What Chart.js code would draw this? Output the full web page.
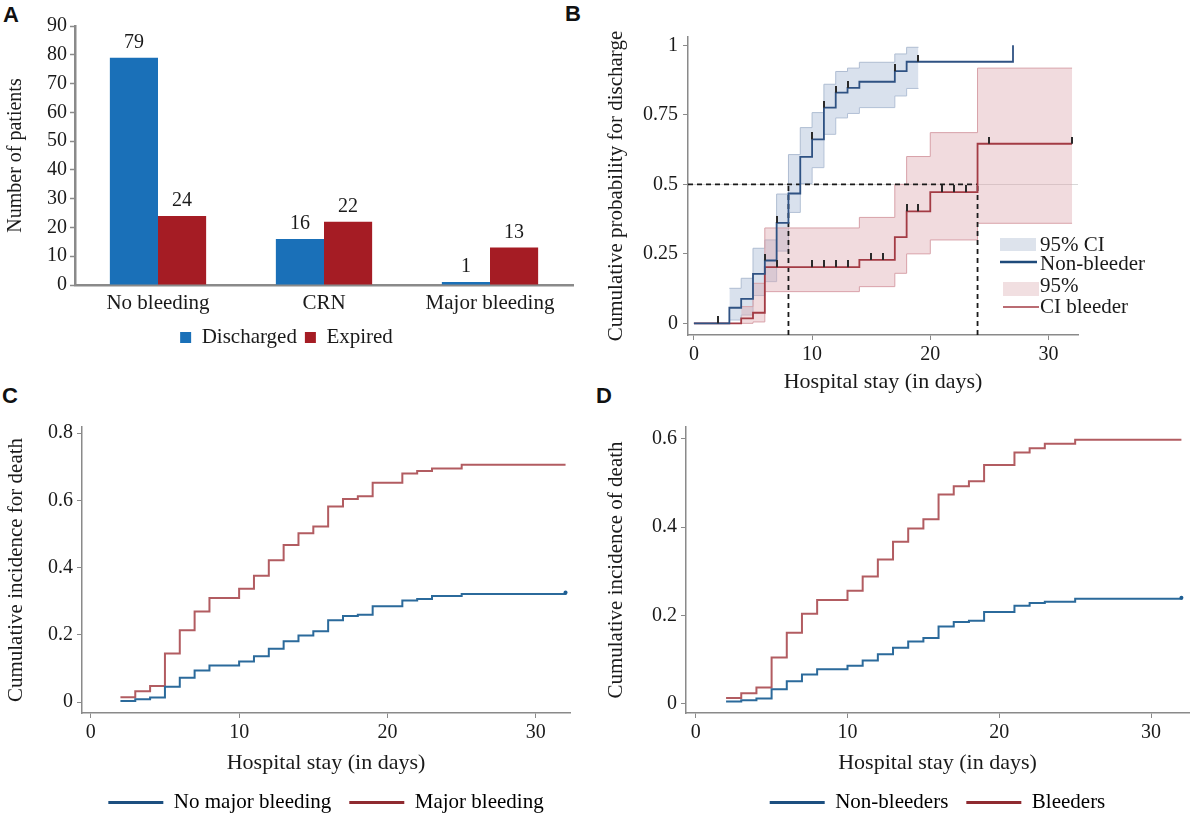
<!DOCTYPE html>
<html>
<head>
<meta charset="utf-8">
<script src="https://cdn.jsdelivr.net/npm/chart.js@4.4.1/dist/chart.umd.min.js"></script>
<style>
body{margin:0;background:#fff;width:1193px;height:815px;overflow:hidden;position:relative}
.box{position:absolute}
.tag{position:absolute;font-family:'Liberation Sans',Arial,sans-serif;font-weight:bold;font-size:22px;color:#111;line-height:24px}
</style>
</head>
<body>

<div class="tag" style="left:3px;top:3px">A</div>
<div class="tag" style="left:565px;top:2px">B</div>
<div class="tag" style="left:2px;top:384px">C</div>
<div class="tag" style="left:596px;top:384px">D</div>

<div class="box" style="left:0;top:0;width:600px;height:360px"><canvas id="grafikA"></canvas></div>
<div class="box" style="left:600px;top:0;width:593px;height:400px"><canvas id="grafikB"></canvas></div>
<div class="box" style="left:0;top:380px;width:600px;height:445px"><canvas id="grafikC"></canvas></div>
<div class="box" style="left:600px;top:380px;width:593px;height:445px"><canvas id="grafikD"></canvas></div>

<script>
// =========================
// DATA PANEL A
// =========================

let kategoriA = ["No bleeding","CRN","Major bleeding"];
let discharged = [79,16,1];
let expired = [24,22,13];
let tickA = [0,10,20,30,40,50,60,70,80,90];

// =========================
// DATA PANEL B (Kaplan-Meier)
// =========================

let hariNonBleeder = [0,3,4,5,6,7,8,9,10,11,12,13,14,17,18,27];
let nonBleeder = [0,0.056,0.088,0.178,0.226,0.361,0.467,0.599,0.662,0.776,0.830,0.847,0.869,0.907,0.941,1.0];

let hariBleeder = [0,4,5,6,14,17,18,20,24,32];
let bleeder = [0,0.018,0.038,0.202,0.228,0.31,0.403,0.472,0.646,0.646];

let hariCiNon = [3,4,5,6,7,8,9,10,11,12,13,14,17,18,19];
let ciNonAtas = [0.126,0.162,0.27,0.30,0.465,0.607,0.704,0.758,0.86,0.906,0.918,0.939,0.969,0.993,0.993];
let ciNonBawah = [0.012,0.03,0.10,0.15,0.26,0.399,0.503,0.56,0.68,0.739,0.755,0.776,0.818,0.845,0.845];

let hariCiBleeder = [4,5,6,14,17,18,20,24,32];
let ciBleederAtas = [0.06,0.144,0.343,0.381,0.50,0.60,0.686,0.918,0.918];
let ciBleederBawah = [0,0.005,0.114,0.132,0.18,0.25,0.30,0.36,0.36];

let sensorNonHari = [2,6,7,10,11,12,13,17,19];
let sensorNonNilai = [0,0.226,0.361,0.662,0.776,0.830,0.847,0.907,0.941];
let sensorBleederHari = [7,10,11,12,13,15,16,18,19,21,22,23,25,32];
let sensorBleederNilai = [0.202,0.202,0.202,0.202,0.202,0.228,0.228,0.403,0.403,0.472,0.472,0.472,0.646,0.646];

let medianHari = [8,24];
let medianLevel = 0.5;

let tickBx = [0,10,20,30];
let tickBy = [0,0.25,0.5,0.75,1];
let legendB = ["95% CI","Non-bleeder","95%","CI bleeder"];

// =========================
// DATA PANEL C & D
// =========================

let hariCD = [2,3,4,5,6,7,8,10,11,12,13,14,15,16,17,18,19,21,22,23,25,32];

let majorBleeding = [0.015,0.033,0.048,0.145,0.214,0.27,0.31,0.337,0.376,0.422,0.467,0.502,0.522,0.582,0.604,0.612,0.652,0.68,0.687,0.695,0.706,0.706];
let noMajorBleeding = [0.004,0.009,0.014,0.046,0.073,0.094,0.109,0.121,0.137,0.159,0.181,0.198,0.211,0.244,0.256,0.26,0.285,0.302,0.307,0.316,0.322,0.326];

let bleeders = [0.013,0.024,0.037,0.105,0.161,0.204,0.235,0.256,0.288,0.327,0.367,0.397,0.418,0.474,0.493,0.504,0.541,0.569,0.579,0.589,0.598,0.598];
let nonBleeders = [0.005,0.008,0.012,0.033,0.051,0.066,0.078,0.086,0.098,0.112,0.127,0.141,0.149,0.175,0.185,0.188,0.208,0.222,0.228,0.231,0.238,0.240];

let tickCDx = [0,10,20,30];
let tickCy = [0,0.2,0.4,0.6,0.8];
let tickDy = [0,0.2,0.4,0.6];


// =========================
// PENGATURAN UMUM
// =========================

Chart.defaults.font.family = "'Liberation Serif','Times New Roman',serif";
Chart.defaults.font.size = 20;
Chart.defaults.color = "#1a1a1a";
Chart.defaults.animation = false;

function titik(xs, ys){
return xs.map(function(x,i){ return {x:x, y:ys[i]}; });
}

function pasangTick(nilai){
return function(scale){ scale.ticks = nilai.map(function(v){ return {value:v}; }); };
}

function angka(v){ return String(+Number(v).toFixed(2)); }

function buatTick(warna){
let c = document.createElement("canvas");
c.width = 2; c.height = 14;
let g = c.getContext("2d");
g.fillStyle = warna;
g.fillRect(0,0,2,7);
return c;
}

let garisAbu = "#8a8a8a";


// =========================
// GRAFIK A - BAR
// =========================

const labelBar = {
id:"labelBar",
afterDatasetsDraw(chart){
let ctx = chart.ctx;
ctx.save();
ctx.font = "20px 'Liberation Serif'";
ctx.fillStyle = "#1a1a1a";
ctx.textAlign = "center";
ctx.textBaseline = "bottom";
chart.data.datasets.forEach(function(ds,i){
chart.getDatasetMeta(i).data.forEach(function(bar,j){
ctx.fillText(ds.data[j], bar.x, bar.y - 5);
});
});
ctx.restore();
}
};

new Chart(document.getElementById("grafikA"),{
type:"bar",
data:{
labels:kategoriA,
datasets:[
{label:"Discharged", data:discharged, backgroundColor:"#1a70b8", barPercentage:1, categoryPercentage:0.58},
{label:"Expired", data:expired, backgroundColor:"#a51c24", barPercentage:1, categoryPercentage:0.58}
]
},
options:{
responsive:true, maintainAspectRatio:false,
layout:{padding:{left:0,right:27,top:26,bottom:2}},
plugins:{
legend:{position:"bottom", labels:{boxWidth:11, boxHeight:11, padding:8, font:{size:21}}},
tooltip:{enabled:false}
},
scales:{
x:{
grid:{display:false,drawTicks:false},
border:{display:true,color:garisAbu,width:2.5},
ticks:{padding:6,font:{size:21}},
afterFit:function(s){ s.height = 34; }
},
y:{
min:0,max:90,
afterBuildTicks:pasangTick(tickA),
grid:{display:true,drawOnChartArea:false,tickLength:5,tickColor:garisAbu,tickWidth:1.5},
border:{display:true,color:garisAbu,width:2.5},
ticks:{padding:3,font:{size:20}},
title:{display:true,text:"Number of patients",font:{size:20}},
afterFit:function(s){ s.width = 75; }
}
}
},
plugins:[labelBar]
});


// =========================
// GRAFIK B - KAPLAN MEIER
// =========================

let xMinB = -0.5, xMaxB = 32.5, yMinB = -0.042, yMaxB = 1.03;

const legendaB = {
id:"legendaB",
afterDraw(chart){
let ctx = chart.ctx, a = chart.chartArea;
let x0 = a.right - 78;
ctx.save();
ctx.fillStyle = "#dde3ec"; ctx.fillRect(x0, 238, 36, 13);
ctx.strokeStyle = "#1e4a7a"; ctx.lineWidth = 2.5;
ctx.beginPath(); ctx.moveTo(x0, 262); ctx.lineTo(x0+37, 262); ctx.stroke();
ctx.fillStyle = "#f1dfe1"; ctx.fillRect(x0+3, 282, 36, 14);
ctx.strokeStyle = "#a33b44"; ctx.lineWidth = 1.5;
ctx.beginPath(); ctx.moveTo(x0+3, 307); ctx.lineTo(x0+39, 307); ctx.stroke();
ctx.font = "21px 'Liberation Serif'";
ctx.fillStyle = "#1a1a1a";
ctx.textBaseline = "middle";
let ys = [245,264,286,307];
legendB.forEach(function(t,i){ ctx.fillText(t, x0+40, ys[i]); });
ctx.restore();
}
};

let garisPutus = {borderColor:"#1a1a1a", borderWidth:1.8, borderDash:[5,4], pointRadius:0, fill:false, order:2};

new Chart(document.getElementById("grafikB"),{
type:"line",
data:{
datasets:[
{data:titik(hariCiNon,ciNonAtas), stepped:true, fill:"+1", backgroundColor:"rgba(186,200,222,0.55)", borderColor:"#afbdd2", borderWidth:1, pointRadius:0, order:5},
{data:titik(hariCiNon,ciNonBawah), stepped:true, fill:false, borderColor:"#afbdd2", borderWidth:1, pointRadius:0, order:5},
{data:titik(hariCiBleeder,ciBleederAtas), stepped:true, fill:"+1", backgroundColor:"rgba(220,165,173,0.40)", borderColor:"#d7a1a8", borderWidth:1, pointRadius:0, order:4},
{data:titik(hariCiBleeder,ciBleederBawah), stepped:true, fill:false, borderColor:"#d7a1a8", borderWidth:1, pointRadius:0, order:4},
{data:titik(hariNonBleeder,nonBleeder), stepped:true, fill:false, borderColor:"#2f5283", borderWidth:1.8, pointRadius:0, order:1},
{data:titik(hariBleeder,bleeder), stepped:true, fill:false, borderColor:"#a33b44", borderWidth:1.8, pointRadius:0, order:1},
{data:titik(sensorNonHari,sensorNonNilai), showLine:false, pointStyle:buatTick("#2a2a2a"), pointRadius:3, order:0},
{data:titik(sensorBleederHari,sensorBleederNilai), showLine:false, pointStyle:buatTick("#2a2a2a"), pointRadius:3, order:0},
Object.assign({data:[{x:xMinB,y:medianLevel},{x:medianHari[1],y:medianLevel}]}, garisPutus),
Object.assign({data:[{x:medianHari[0],y:yMinB},{x:medianHari[0],y:medianLevel}]}, garisPutus),
Object.assign({data:[{x:medianHari[1],y:yMinB},{x:medianHari[1],y:medianLevel}]}, garisPutus)
]
},
options:{
responsive:true, maintainAspectRatio:false,
layout:{padding:{left:0,right:115,top:37,bottom:1}},
plugins:{legend:{display:false}, tooltip:{enabled:false}},
scales:{
x:{
type:"linear", min:xMinB, max:xMaxB,
afterBuildTicks:pasangTick(tickBx),
grid:{display:true,drawOnChartArea:false,tickLength:5,tickColor:garisAbu},
border:{display:true,color:garisAbu,width:1.5},
ticks:{padding:3,font:{size:20}},
title:{display:true,text:"Hospital stay (in days)",font:{size:22}},
afterFit:function(s){ s.height = 64; }
},
y:{
min:yMinB, max:yMaxB,
afterBuildTicks:pasangTick(tickBy),
grid:{display:true,drawOnChartArea:true,tickLength:5,tickColor:garisAbu,
color:function(c){ return c.tick && c.tick.value===medianLevel ? "#d8d8d8" : "rgba(0,0,0,0)"; }},
border:{display:true,color:garisAbu,width:1.5},
ticks:{padding:5,font:{size:20},callback:angka},
title:{display:true,text:"Cumulative probability for discharge",font:{size:21}},
afterFit:function(s){ s.width = 88; }
}
}
},
plugins:[legendaB]
});


// =========================
// GRAFIK C & D - CUMULATIVE INCIDENCE
// =========================

function grafikInsiden(id, opsi){

let akhir = hariCD.length - 1;

new Chart(document.getElementById(id),{
type:"line",
data:{
datasets:[
{label:opsi.label[0], data:titik(hariCD,opsi.biru), stepped:true, fill:false, borderColor:"#2b6a9b", backgroundColor:"#1f5f94", borderWidth:2,
pointRadius:function(c){ return c.dataIndex===akhir ? 2 : 0; }, pointBorderWidth:0, legendColor:"#1c4f80"},
{label:opsi.label[1], data:titik(hariCD,opsi.merah), stepped:true, fill:false, borderColor:"#b25c61", borderWidth:2, pointRadius:0, legendColor:"#8f2a30"}
]
},
options:{
responsive:true, maintainAspectRatio:false,
layout:{padding:{left:0,right:opsi.kanan,top:47,bottom:2}},
plugins:{
tooltip:{enabled:false},
legend:{
position:"bottom", fullSize:false,
labels:{
boxWidth:55, boxHeight:3, padding:18, font:{size:21},
generateLabels:function(chart){
return chart.data.datasets.map(function(ds,i){
return {text:ds.label, fillStyle:ds.legendColor, strokeStyle:ds.legendColor, lineWidth:0, hidden:false, datasetIndex:i};
});
}
}
}
},
scales:{
x:{
type:"linear", min:opsi.xMin, max:opsi.xMax,
afterBuildTicks:pasangTick(tickCDx),
grid:{display:true,drawOnChartArea:false,tickLength:5,tickColor:garisAbu},
border:{display:true,color:garisAbu,width:1.5},
ticks:{padding:3,font:{size:20}},
title:{display:true,text:"Hospital stay (in days)",font:{size:22},padding:{top:4,bottom:-2}},
afterFit:function(s){ s.height = 61; }
},
y:{
min:opsi.yMin, max:opsi.yMax,
afterBuildTicks:pasangTick(opsi.tickY),
grid:{display:true,drawOnChartArea:false,tickLength:5,tickColor:garisAbu},
border:{display:true,color:garisAbu,width:1.5},
ticks:{padding:4,font:{size:20},callback:angka},
title:{display:true,text:opsi.judulY,font:{size:21}},
afterFit:function(s){ s.width = opsi.lebarY; }
}
}
}
});

}

grafikInsiden("grafikC",{
label:["No major bleeding","Major bleeding"],
biru:noMajorBleeding, merah:majorBleeding,
xMin:-0.59, xMax:32.3, yMin:-0.032, yMax:0.818,
tickY:tickCy, judulY:"Cumulative incidence for death",
lebarY:82, kanan:30
});

grafikInsiden("grafikD",{
label:["Non-bleeders","Bleeders"],
biru:nonBleeders, merah:bleeders,
xMin:-0.64, xMax:32.5, yMin:-0.021, yMax:0.627,
tickY:tickDy, judulY:"Cumulative incidence of death",
lebarY:86, kanan:3
});
</script>
</body>
</html>
